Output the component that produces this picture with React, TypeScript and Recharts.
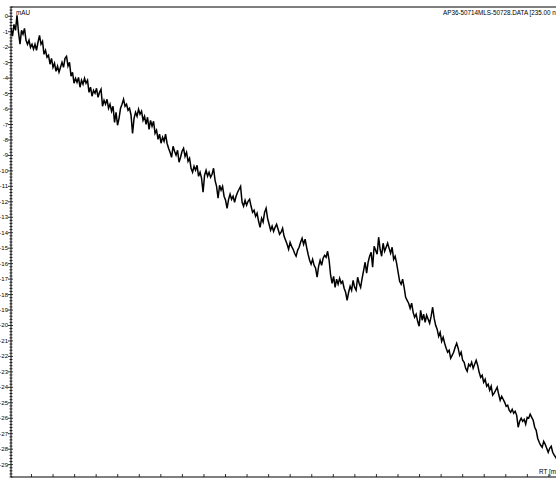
import { LineChart, Line, XAxis, YAxis } from 'recharts'

// detector trace (mAU), one sample every SAMPLE_STEP min
const SAMPLE_START = 0.05
const SAMPLE_STEP = 0.0696
const MAU = [
  -0.78, -1.29, -0.52, -0.91, 0.06, -1.03, -1.81, -0.91, -1.16, -0.78,
  -1.55, -1.81, -1.55, -2.01, -1.81, -2.13, -1.81, -2.2, -1.68, -1.23,
  -1.81, -1.62, -2.46, -2.2, -2.65, -2.52, -3.1, -2.72, -3.3, -3.04,
  -3.56, -3.23, -3.62, -3.3, -2.98, -3.3, -2.72, -2.59, -3.23, -2.98,
  -3.88, -3.62, -4.33, -4.01, -4.27, -3.95, -4.59, -4.14, -4.4, -4.01,
  -4.33, -4.14, -4.92, -4.59, -5.17, -4.79, -4.98, -4.66, -5.24, -4.92,
  -4.72, -5.82, -5.43, -5.69, -5.37, -5.95, -5.69, -6.14, -5.82, -6.86,
  -6.21, -7.05, -6.6, -5.95, -5.69, -5.37, -5.82, -5.69, -6.08, -5.95,
  -6.4, -7.57, -6.6, -6.21, -6.47, -6.02, -6.34, -6.14, -6.73, -6.47,
  -6.99, -6.53, -7.31, -6.73, -7.11, -6.79, -7.57, -7.37, -7.96, -7.63,
  -8.21, -7.83, -8.09, -7.63, -8.21, -8.54, -8.8, -9.12, -8.41, -8.73,
  -8.99, -8.67, -9.44, -9.12, -8.73, -8.54, -9.06, -8.8, -9.38, -9.18,
  -9.83, -10.09, -9.7, -9.96, -9.64, -10.35, -10.09, -10.48, -11.38, -10.28,
  -9.96, -10.35, -10.09, -10.41, -10.22, -9.83, -10.61, -11.0, -11.77, -10.93,
  -11.25, -11.0, -11.64, -11.9, -12.42, -11.84, -11.51, -11.84, -11.64, -12.03,
  -11.64, -11.38, -11.19, -11.0, -12.03, -12.29, -11.9, -12.22, -11.97, -11.84,
  -12.29, -12.68, -12.55, -12.94, -12.74, -13.26, -13.65, -13.07, -13.32, -12.68,
  -12.42, -13.07, -13.45, -13.84, -13.58, -13.91, -13.65, -13.45, -13.78, -14.1,
  -13.97, -13.71, -14.23, -14.49, -14.75, -15.07, -14.62, -14.88, -15.07, -15.33,
  -15.52, -15.14, -14.94, -14.62, -14.36, -14.75, -14.42, -14.94, -15.39, -15.78,
  -16.04, -15.72, -16.11, -16.3, -16.88, -16.17, -15.78, -16.11, -15.65, -15.46,
  -15.59, -15.2, -15.78, -16.75, -17.27, -16.82, -17.53, -17.01, -17.33, -16.95,
  -17.27, -17.14, -17.59, -17.85, -18.37, -17.85, -17.46, -17.72, -17.08, -17.53,
  -17.72, -16.88, -17.27, -17.53, -16.95, -16.43, -15.91, -16.62, -15.91, -15.52,
  -15.26, -16.23, -14.88, -15.14, -15.39, -14.29, -15.07, -15.52, -14.68, -15.2,
  -14.94, -14.68, -15.01, -15.33, -14.94, -15.72, -15.52, -15.98, -16.56, -17.14,
  -17.33, -17.01, -17.53, -18.18, -18.37, -18.56, -18.89, -18.56, -19.15, -19.47,
  -19.27, -19.73, -20.05, -19.02, -19.66, -19.27, -19.79, -19.34, -19.6, -19.86,
  -19.4, -18.82, -19.53, -19.99, -20.24, -20.7, -20.44, -21.02, -20.76, -21.15,
  -21.47, -21.73, -21.6, -22.12, -21.93, -21.73, -21.41, -21.15, -21.47, -21.93,
  -21.73, -22.25, -22.38, -22.77, -22.96, -22.51, -22.64, -22.38, -22.77, -22.51,
  -22.25, -22.57, -23.03, -23.35, -23.22, -23.67, -23.48, -23.93, -23.8, -24.19,
  -23.93, -24.51, -24.38, -24.19, -24.0, -24.45, -24.84, -24.58, -24.77, -24.97,
  -25.23, -25.16, -25.48, -25.61, -25.42, -25.68, -25.55, -25.81, -26.58, -26.2,
  -26.0, -26.2, -26.07, -26.39, -25.94, -26.0, -25.74, -25.94, -26.13, -26.58,
  -26.78, -27.29, -27.55, -27.75, -27.88, -27.49, -27.68, -27.94, -28.2, -27.94,
  -27.81, -28.2, -28.39, -28.52, -28.72,
]

const X_DOMAIN: [number, number] = [0.05, 27.37]
const Y_DOMAIN: [number, number] = [-29.8, 0.6]
const X_TICKS = Array.from({ length: 27 }, (_, i) => i + 1)
// minor ticks every 0.2 mAU, labels on whole numbers
const Y_TICKS: number[] = []
for (let k = -149; k <= 3; k++) Y_TICKS.push(k / 5)

const TITLE = 'AP36-50714MLS-50728.DATA [235.00 nm]'
const FONT = '"Liberation Sans", Arial, sans-serif'

const data = MAU.map((v, i) => ({ rt: +(SAMPLE_START + i * SAMPLE_STEP).toFixed(4), mau: v }))

function YTick(props: any) {
  const { x, y, payload } = props
  const v = payload.value
  const major = Math.abs(v - Math.round(v)) < 1e-6
  return (
    <g>
      <line x1={major ? x - 3 : x - 1.5} x2={major ? x + 2 : x + 1.5} y1={y} y2={y} stroke="#000" strokeWidth={0.8} />
      {major && (
        <text x={x - 3} y={y} dy={2} textAnchor="end" fontSize={6} fontFamily={FONT} fill="#000">
          {Math.round(v)}
        </text>
      )}
    </g>
  )
}

function XTick(props: any) {
  const { x, y } = props
  return <line x1={x} x2={x} y1={y} y2={y - 3} stroke="#000" strokeWidth={0.8} />
}

const label = (left: number, top: number): React.CSSProperties => ({
  position: 'absolute',
  left,
  top,
  fontSize: 6.3,
  fontFamily: FONT,
  color: '#000',
  whiteSpace: 'nowrap',
  lineHeight: '7px',
})

export default function App() {
  return (
    <div style={{ position: 'absolute', left: 0, top: 0, width: 556, height: 478, overflow: 'hidden', background: '#fff' }}>
      <LineChart width={600} height={478} data={data} margin={{ top: 6, right: 0, bottom: 0, left: 0 }}>
        <XAxis
          dataKey="rt"
          type="number"
          domain={X_DOMAIN}
          allowDataOverflow
          ticks={X_TICKS}
          interval={0}
          height={1}
          tickSize={0}
          tickMargin={0}
          tick={<XTick />}
          axisLine={{ stroke: '#000' }}
        />
        <XAxis
          xAxisId="top"
          orientation="top"
          dataKey="rt"
          type="number"
          domain={X_DOMAIN}
          allowDataOverflow
          height={1}
          tick={false}
          tickLine={false}
          axisLine={{ stroke: '#000' }}
        />
        <YAxis
          type="number"
          domain={Y_DOMAIN}
          allowDataOverflow
          ticks={Y_TICKS}
          interval={0}
          width={11}
          tickSize={0}
          tickMargin={0}
          tick={<YTick />}
          axisLine={{ stroke: '#000' }}
        />
        <Line dataKey="mau" stroke="#000" strokeWidth={1.5} dot={false} type="linear" isAnimationActive={false} />
      </LineChart>
      <div style={label(16, 9)}>mAU</div>
      <div style={label(443, 9)}>{TITLE}</div>
      <div style={label(539, 468)}>RT [min]</div>
    </div>
  )
}
